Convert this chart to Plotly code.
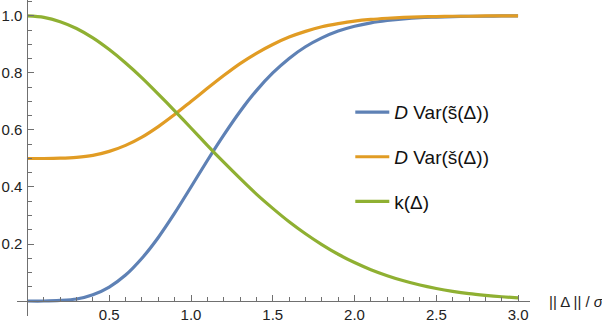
import plotly.graph_objects as go

# x samples (||Delta|| / sigma)
x_vals = [0.0, 0.1, 0.2, 0.3, 0.4, 0.5, 0.6, 0.7, 0.8, 0.9, 1.0,
          1.1, 1.2, 1.3, 1.4, 1.5, 1.6, 1.7, 1.8, 1.9, 2.0,
          2.1, 2.2, 2.3, 2.4, 2.5, 2.6, 2.7, 2.8, 2.9, 3.0]

# D Var(s~(Delta))  (blue)
var_tilde = [0.000, 0.000, 0.002, 0.007, 0.022, 0.049, 0.091, 0.150, 0.223, 0.308, 0.400,
             0.493, 0.582, 0.665, 0.738, 0.800, 0.851, 0.892, 0.923, 0.947, 0.964,
             0.976, 0.984, 0.990, 0.994, 0.996, 0.998, 0.999, 0.999, 1.000, 1.000]

# D Var(s^(Delta))  (orange)
var_check = [0.500, 0.500, 0.501, 0.504, 0.511, 0.525, 0.546, 0.575, 0.612, 0.654, 0.700,
             0.746, 0.791, 0.833, 0.869, 0.900, 0.926, 0.946, 0.962, 0.973, 0.982,
             0.988, 0.992, 0.995, 0.997, 0.998, 0.999, 0.999, 1.000, 1.000, 1.000]

# k(Delta)  (green)
k_vals = [1.000, 0.995, 0.980, 0.956, 0.923, 0.882, 0.835, 0.783, 0.726, 0.667, 0.607,
          0.546, 0.487, 0.430, 0.375, 0.325, 0.278, 0.236, 0.198, 0.164, 0.135,
          0.110, 0.089, 0.071, 0.056, 0.044, 0.034, 0.026, 0.020, 0.015, 0.011]

x_ticks = [0.5, 1.0, 1.5, 2.0, 2.5, 3.0]
x_ticktext = ["0.5", "1.0", "1.5", "2.0", "2.5", "3.0"]
y_ticks = [0.2, 0.4, 0.6, 0.8, 1.0]
y_ticktext = ["0.2", "0.4", "0.6", "0.8", "1.0"]

names = ["<i>D</i> Var(s\u0303(Δ))", "<i>D</i> Var(š(Δ))", "k(Δ)"]
colors = ["#5E81B5", "#E19C24", "#8FB032"]
series = [var_tilde, var_check, k_vals]

fig = go.Figure()
for i, (nm, col, ys) in enumerate(zip(names, colors, series)):
    fig.add_trace(go.Scatter(
        x=x_vals, y=ys, mode="lines", name=nm, legendgroup=f"g{i}",
        line=dict(color=col, width=3.2, shape="spline", smoothing=0.8),
    ))

X_RANGE = [-0.064, 3.073]
Y_RANGE = [-0.0526, 1.056]
axis_col = "#707070"
font_fam = "Liberation Sans, Arial, sans-serif"

fig.update_layout(
    width=602, height=322,
    margin=dict(l=17, r=72, t=0, b=6, pad=0),
    paper_bgcolor="white", plot_bgcolor="white",
    font=dict(family=font_fam, size=15, color="#222222"),
    showlegend=True,
    legend=dict(
        x=0.6497, y=0.705, xanchor="left", yanchor="top",
        bgcolor="rgba(0,0,0,0)", tracegroupgap=17, itemwidth=34,
        font=dict(family=font_fam, size=19, color="#111111"),
    ),
    xaxis=dict(
        range=X_RANGE, anchor="free",
        position=(0 - Y_RANGE[0]) / (Y_RANGE[1] - Y_RANGE[0]),
        showgrid=False, zeroline=False, showline=True, linecolor=axis_col, linewidth=1,
        tickvals=x_ticks, ticktext=x_ticktext, ticks="inside", ticklen=6,
        tickcolor=axis_col, tickwidth=1, automargin=False,
        minor=dict(dtick=0.1, tick0=0, ticks="inside", ticklen=4, tickcolor=axis_col, showgrid=False),
    ),
    yaxis=dict(
        range=Y_RANGE, anchor="free",
        position=(0 - X_RANGE[0]) / (X_RANGE[1] - X_RANGE[0]),
        showgrid=False, zeroline=False, showline=True, linecolor=axis_col, linewidth=1,
        tickvals=y_ticks, ticktext=y_ticktext, ticks="inside", ticklen=6,
        tickcolor=axis_col, tickwidth=1, automargin=False, ticklabelstandoff=2,
        minor=dict(dtick=0.05, tick0=0, ticks="inside", ticklen=4, tickcolor=axis_col, showgrid=False),
    ),
)

fig.add_annotation(
    text="|| Δ || / <i>σ</i>", xref="paper", yref="y",
    x=1.033, y=0, xanchor="left", yanchor="middle", showarrow=False,
    font=dict(family=font_fam, size=15, color="#222222"),
)

fig.write_html(
    "out.html",
    config={"displayModeBar": False, "staticPlot": True},
    post_script="document.body.style.margin='0';document.body.style.padding='0';"
                "document.documentElement.style.overflow='hidden';",
)
